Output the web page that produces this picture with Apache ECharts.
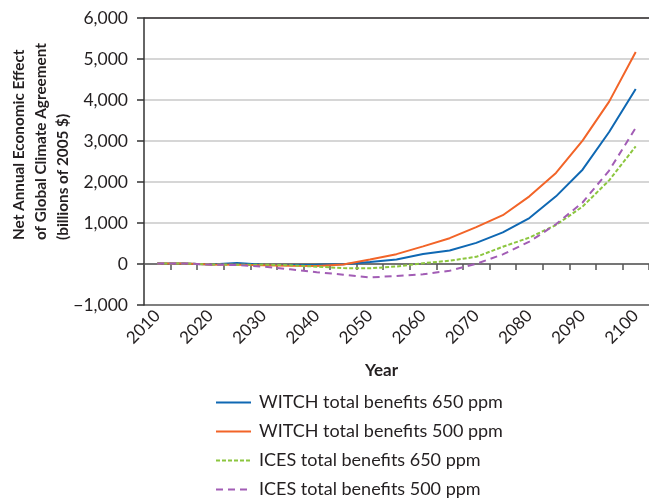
<!DOCTYPE html>
<html>
<head>
<meta charset="utf-8">
<script src="https://cdn.jsdelivr.net/npm/echarts@6/dist/echarts.min.js"></script>
<style>html,body{margin:0;padding:0;background:#fff;}#chart{width:649px;height:499px;}</style>
</head>
<body>
<div id="chart"></div>
<script>
const years = ['2010','2015','2020','2025','2030','2035','2040','2045','2050','2055','2060','2065','2070','2075','2080','2085','2090','2095','2100'];
const witch650 = [15, 15, -10, 25, -20, -25, -20, -5, 50, 110, 245, 330, 515, 770, 1120, 1650, 2300, 3220, 4270];
const witch500 = [15, 15, -10, -20, -30, -45, -50, -10, 110, 240, 430, 630, 900, 1190, 1650, 2220, 3010, 3960, 5170];
const ices650 = [15, 15, -10, -20, -15, -30, -65, -100, -105, -60, 20, 80, 175, 420, 645, 950, 1400, 2040, 2870];
const ices500 = [15, 15, -15, -25, -65, -130, -200, -260, -330, -290, -250, -165, 5, 235, 545, 970, 1500, 2280, 3320];
const seriesNames = ['WITCH total benefits 650 ppm','WITCH total benefits 500 ppm','ICES total benefits 650 ppm','ICES total benefits 500 ppm'];
const yName = 'Net Annual Economic Effect\nof Global Climate Agreement\n(billions of 2005 $)';
const xName = 'Year';

const FONT = 'Lato';
const TXT = '#231f20';
const chart = echarts.init(document.getElementById('chart'));
function fmt(v){
  const s = Math.abs(v).toLocaleString('en-US');
  return (v < 0 ? '\u2212' : '') + s;
}
function mk(name, data, color, type){
  return {
    name: name, type: 'line', data: data, symbol: 'none', smooth: false,
    lineStyle: {color: color, width: 2, type: type},
    itemStyle: {color: color}
  };
}
chart.setOption({
  animation: false,
  grid: {left: 144, top: 18, right: -3, bottom: 194, containLabel: false},
  xAxis: {
    type: 'category', data: years, boundaryGap: true,
    axisLine: {show: true, lineStyle: {color: '#555', width: 1.5}},
    axisTick: {show: true, interval: 0, length: 6, lineStyle: {color: '#555', width: 1.5}},
    axisLabel: {interval: 1, rotate: 45, margin: 8, color: TXT, fontFamily: FONT, fontSize: 17},
    splitLine: {show: false}
  },
  yAxis: {
    type: 'value', min: -1000, max: 6000, interval: 1000,
    axisLine: {show: true, lineStyle: {color: '#333', width: 1.5}},
    axisTick: {show: true, length: 7, lineStyle: {color: '#333', width: 1.5}},
    axisLabel: {margin: 16, color: TXT, fontFamily: FONT, fontSize: 17.5, formatter: fmt},
    splitLine: {show: true, lineStyle: {color: ['#555','#c8c8c8','#c8c8c8','#c8c8c8','#c8c8c8','#c8c8c8','#c8c8c8','#231f20'], width: 1.5}}
  },
  legend: {
    orient: 'vertical', left: 215, top: 393, bottom: -60, padding: 0,
    itemWidth: 35, itemHeight: 14, itemGap: 10,
    itemStyle: {opacity: 0},
    textStyle: {color: TXT, fontFamily: FONT, fontSize: 18, padding: [0,0,0,3], lineHeight: 19},
    data: seriesNames
  },
  graphic: [
    {type: 'text', x: 41, y: 240, rotation: Math.PI/2,
     style: {text: yName, fill: TXT, fontFamily: FONT, fontWeight: 'bold', fontSize: 15.3, align: 'left', verticalAlign: 'middle', lineHeight: 22}},
    {type: 'text', x: 381.5, y: 371,
     style: {text: xName, fill: TXT, fontFamily: FONT, fontWeight: 'bold', fontSize: 17, align: 'center', verticalAlign: 'middle'}}
  ],
  series: [
    mk(seriesNames[0], witch650, '#0f68b3', 'solid'),
    mk(seriesNames[1], witch500, '#f26428', 'solid'),
    mk(seriesNames[2], ices650, '#8cc63f', [4, 2]),
    mk(seriesNames[3], ices500, '#a25db5', [7, 5])
  ]
});
</script>
</body>
</html>
